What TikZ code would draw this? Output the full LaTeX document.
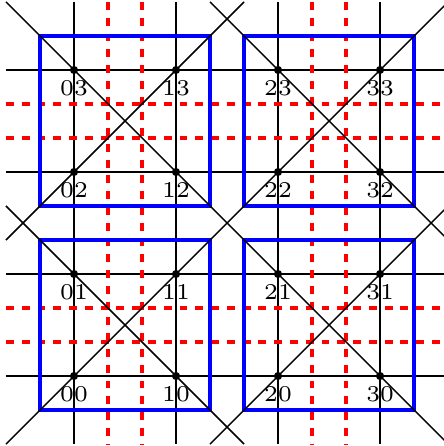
\documentclass[tikz,border=0pt]{standalone}
\begin{document}
\begin{tikzpicture}[x=1cm,y=1cm,
  gridline/.style={line width=0.4pt, black},
  ghost/.style={red, line width=1.1pt, dash pattern=on 2.2pt off 2.2pt},
  cellbox/.style={blue, line width=1.2pt},
  diagline/.style={line width=0.4pt, black},
  pt/.style={circle, fill=black, inner sep=0pt, minimum size=0.08cm},
  lab/.style={inner sep=0pt, font=\fontsize{6.3}{7}\selectfont}]
\useasboundingbox (-0.7255,-0.686) rectangle (3.618,3.686);
% grid lines
\foreach \i in {0,...,3} {
  \draw[gridline] (\i,-0.6667) -- (\i,3.6667);
  \draw[gridline] (-0.6667,\i) -- (3.6667,\i);
}
% red dashed lines
\foreach \a in {0.3333,0.6667,2.3333,2.6667} {
  \draw[ghost] (\a,3.6667) -- (\a,-0.6667);
  \draw[ghost] (-0.6667,\a) -- (3.6667,\a);
}
% blue cells
\draw[cellbox] (-0.3333,-0.3333) rectangle (1.3333,1.3333);
\draw[cellbox] (1.6667,-0.3333) rectangle (3.3333,1.3333);
\draw[cellbox] (-0.3333,1.6667) rectangle (1.3333,3.3333);
\draw[cellbox] (1.6667,1.6667) rectangle (3.3333,3.3333);
% diagonals
\draw[diagline] (-0.6667,-0.6667) -- (3.6667,3.6667);
\draw[diagline] (-0.6667,3.6667) -- (3.6667,-0.6667);
\draw[diagline] (-0.6667,1.3333) -- (1.6667,3.6667);
\draw[diagline] (1.3333,-0.6667) -- (3.6667,1.6667);
\draw[diagline] (-0.6667,1.6667) -- (1.6667,-0.6667);
\draw[diagline] (1.3333,3.6667) -- (3.6667,1.3333);
% points and labels
\foreach \i in {0,...,3} {
  \foreach \j in {0,...,3} {
    \node[pt] (p\i\j) at (\i,\j) {};
    \node[lab] (l\i\j) at (\i,\j-0.181) {\i\j};
  }
}
\end{tikzpicture}
\end{document}
